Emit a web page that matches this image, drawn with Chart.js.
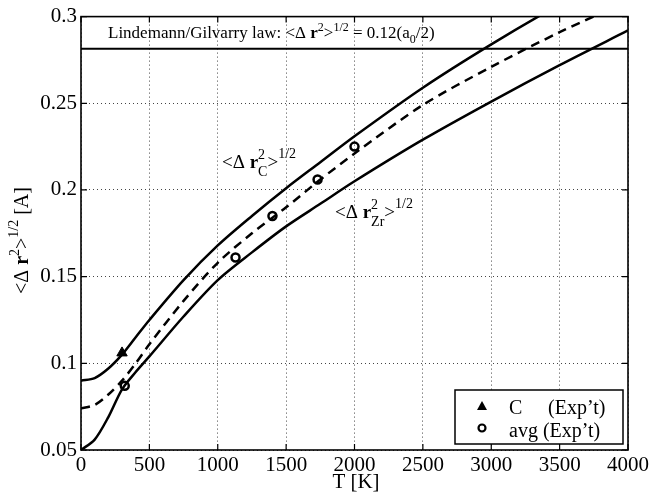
<!DOCTYPE html>
<html>
<head>
<meta charset="utf-8">
<script src="https://cdn.jsdelivr.net/npm/chart.js@4/dist/chart.umd.min.js"></script>
<style>
  html, body { margin: 0; padding: 0; background: #fff; }
  #wrap { width: 652px; height: 499px; }
</style>
</head>
<body>
<div id="wrap"><canvas id="chart" width="652" height="499"></canvas></div>
<script>
var tempK = [0, 100, 200, 300, 400, 500, 750, 1000, 1250, 1500, 1750, 2000, 2500, 3000, 3500, 4000];
var rmsC   = [0.090, 0.0915, 0.097, 0.105, 0.115, 0.125, 0.148, 0.168, 0.185, 0.201, 0.216, 0.231, 0.259, 0.284, 0.307, 0.328];
var rmsAvg = [0.074, 0.076, 0.082, 0.090, 0.100, 0.111, 0.136, 0.158, 0.175, 0.190, 0.206, 0.221, 0.249, 0.271, 0.291, 0.309];
var rmsZr  = [0.050, 0.056, 0.069, 0.085, 0.095, 0.104, 0.127, 0.148, 0.164, 0.179, 0.192, 0.205, 0.229, 0.251, 0.272, 0.292];

// experimental points
var expCT = [300];
var expC = [0.106];
var expAvgT = [320, 1130, 1400, 1730, 2000];
var expAvg = [0.087, 0.161, 0.185, 0.206, 0.225];

// Lindemann/Gilvarry limit
var lindemann = 0.2815;
var lindemannT = [0, 4000];

var xTickLabels = ['0', '500', '1000', '1500', '2000', '2500', '3000', '3500', '4000'];
var yTickLabels = ['0.05', '0.1', '0.15', '0.2', '0.25', '0.3'];

var serif = '"Liberation Serif", "DejaVu Serif", serif';

function pts(xs, ys) {
  return xs.map(function (x, i) { return { x: x, y: ys[i] }; });
}

function drawRich(ctx, x, y, parts, size) {
  var cx = x;
  parts.forEach(function (p) {
    if (typeof p === 'string') p = { t: p };
    var s = p.s || size;
    ctx.font = (p.b ? 'bold ' : '') + s + 'px ' + serif;
    ctx.fillText(p.t, cx, y + (p.dy || 0));
    if (!p.stay) cx += ctx.measureText(p.t).width;
  });
}

var decor = {
  id: 'decor',
  beforeDraw: function (chart) {
    var ctx = chart.ctx;
    ctx.save();
    ctx.fillStyle = '#fff';
    ctx.fillRect(0, 0, chart.width, chart.height);
    ctx.restore();
  },
  afterDraw: function (chart) {
    var ctx = chart.ctx, ca = chart.chartArea;
    var xs = chart.scales.x, ys = chart.scales.y;
    ctx.save();
    ctx.strokeStyle = '#000';
    ctx.fillStyle = '#000';

    // inward ticks
    ctx.lineWidth = 1.2;
    ctx.beginPath();
    xs.ticks.forEach(function (t) {
      var px = xs.getPixelForValue(t.value);
      ctx.moveTo(px, ca.bottom); ctx.lineTo(px, ca.bottom - 6);
      ctx.moveTo(px, ca.top); ctx.lineTo(px, ca.top + 6);
    });
    ys.ticks.forEach(function (t) {
      var py = ys.getPixelForValue(t.value);
      ctx.moveTo(ca.left, py); ctx.lineTo(ca.left + 6, py);
      ctx.moveTo(ca.right, py); ctx.lineTo(ca.right - 6, py);
    });
    ctx.stroke();

    // frame
    ctx.lineWidth = 1.6;
    ctx.strokeRect(ca.left, ca.top, ca.right - ca.left, ca.bottom - ca.top);

    ctx.textBaseline = 'alphabetic';
    ctx.textAlign = 'left';

    // Lindemann label
    drawRich(ctx, 108, 38, [
      'Lindemann/Gilvarry law: <\u0394 ', { t: 'r', b: 1 }, { t: '2', dy: -7, s: 12 }, '>',
      { t: '1/2', dy: -7, s: 12 }, ' = 0.12(a', { t: '0', dy: 5, s: 12 }, '/2)'
    ], 17);

    // curve labels
    drawRich(ctx, 222, 168, [
      '<\u0394 ', { t: 'r', b: 1 }, { t: '2', dy: -9, s: 14, stay: 1 }, { t: 'C', dy: 8, s: 14 }, '>',
      { t: '1/2', dy: -10, s: 14 }
    ], 19);
    drawRich(ctx, 335, 218, [
      '<\u0394 ', { t: 'r', b: 1 }, { t: '2', dy: -9, s: 14, stay: 1 }, { t: 'Zr', dy: 8, s: 14 }, '>',
      { t: '1/2', dy: -10, s: 14 }
    ], 19);

    // axis titles
    ctx.save();
    ctx.translate(28, 294);
    ctx.rotate(-Math.PI / 2);
    drawRich(ctx, 0, 0, [
      '<\u0394 ', { t: 'r', b: 1 }, { t: '2', dy: -9, s: 14 }, '>', { t: '1/2', dy: -10, s: 14 }, ' [A]'
    ], 20);
    ctx.restore();
    ctx.font = '21px ' + serif;
    ctx.textAlign = 'center';
    ctx.fillText('T [K]', 356, 488);

    // legend box
    var lx = 455, ly = 390, lw = 168, lh = 54;
    ctx.fillStyle = '#fff';
    ctx.fillRect(lx, ly, lw, lh);
    ctx.lineWidth = 1.5;
    ctx.strokeRect(lx, ly, lw, lh);
    ctx.fillStyle = '#000';
    ctx.beginPath();
    ctx.moveTo(482, 401); ctx.lineTo(487, 410); ctx.lineTo(477, 410); ctx.closePath();
    ctx.fill();
    ctx.lineWidth = 2.2;
    ctx.beginPath();
    ctx.arc(482, 428, 3.5, 0, Math.PI * 2);
    ctx.stroke();
    ctx.textAlign = 'left';
    ctx.font = '20px ' + serif;
    ctx.fillText('C', 509, 414);
    ctx.fillText('(Exp\u2019t)', 548, 414);
    ctx.fillText('avg (Exp\u2019t)', 509, 437);
    ctx.restore();
  }
};

var grid = {
  color: '#444',
  lineWidth: 1,
  drawTicks: false
};

var curve = { borderColor: '#000', borderWidth: 2.5, pointRadius: 0, tension: 0.3 };

new Chart(document.getElementById('chart').getContext('2d'), {
  type: 'line',
  data: {
    datasets: [
      Object.assign({ label: 'C', data: pts(tempK, rmsC) }, curve),
      Object.assign({ label: 'avg', data: pts(tempK, rmsAvg), borderDash: [9, 6] }, curve),
      Object.assign({ label: 'Zr', data: pts(tempK, rmsZr) }, curve),
      { label: 'Lindemann', data: pts(lindemannT, lindemannT.map(function () { return lindemann; })), borderColor: '#000', borderWidth: 2, pointRadius: 0 },
      { label: 'C (Exp\u2019t)', data: pts(expCT, expC), showLine: false, pointStyle: 'triangle', pointRadius: 6, backgroundColor: '#000', borderColor: '#000', borderWidth: 1 },
      { label: 'avg (Exp\u2019t)', data: pts(expAvgT, expAvg), showLine: false, pointStyle: 'circle', pointRadius: 4, backgroundColor: 'rgba(0,0,0,0)', borderColor: '#000', borderWidth: 2.5 }
    ]
  },
  options: {
    responsive: false,
    maintainAspectRatio: false,
    animation: false,
    layout: { padding: { left: 0, top: 16, right: 23, bottom: 0 } },
    plugins: { legend: { display: false }, tooltip: { enabled: false } },
    scales: {
      x: {
        type: 'linear', min: 0, max: 4000,
        grid: grid,
        border: { display: false, dash: [1, 3] },
        afterFit: function (s) { s.height = 49; },
        ticks: {
          stepSize: 500, color: '#000', padding: 3, maxRotation: 0,
          font: { family: serif, size: 21 },
          callback: function (v, i) { return xTickLabels[i]; }
        }
      },
      y: {
        type: 'linear', min: 0.05, max: 0.3,
        grid: grid,
        border: { display: false, dash: [1, 3] },
        afterFit: function (s) { s.width = 81; },
        ticks: {
          stepSize: 0.05, color: '#000', padding: 4,
          font: { family: serif, size: 21 },
          callback: function (v, i) { return yTickLabels[i]; }
        }
      }
    }
  },
  plugins: [decor]
});
</script>
</body>
</html>
